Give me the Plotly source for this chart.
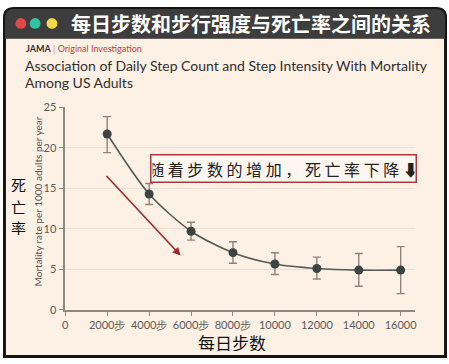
import plotly.graph_objects as go

# ---- data ----
steps = [2000, 4000, 6000, 8000, 10000, 12000, 14000, 16000]
mortality = [21.7, 14.3, 9.7, 7.05, 5.65, 5.1, 4.9, 4.9]
err_upper = [23.85, 15.6, 10.8, 8.4, 7.05, 6.5, 6.95, 7.8]
err_lower = [19.4, 13.0, 8.6, 5.75, 4.35, 3.8, 2.9, 2.0]
x_tickvals = [0, 2000, 4000, 6000, 8000, 10000, 12000, 14000, 16000]
x_ticktext = ["0", "2000步", "4000步", "6000步", "8000步", "10000", "12000", "14000", "16000"]
y_tickvals = [0, 5, 10, 15, 20, 25]

W, H = 449, 364


def px(x):
    return x / W


def py(y):
    return 1 - y / H


err_plus = [u - m for u, m in zip(err_upper, mortality)]
err_minus = [m - l for m, l in zip(mortality, err_lower)]

fig = go.Figure()
fig.add_trace(go.Scatter(
    x=steps, y=mortality, mode="lines+markers",
    line=dict(shape="spline", color="#555a58", width=1.6, smoothing=0.8),
    marker=dict(color="#3c4341", size=9),
    error_y=dict(type="data", symmetric=False, array=err_plus, arrayminus=err_minus,
                 color="#8e847b", thickness=1.4, width=4),
    showlegend=False, hoverinfo="skip",
))


def rounded_top(xa, ya, xb, yb, r):
    return (f"M {px(xa)},{py(ya + r)} Q {px(xa)},{py(ya)} {px(xa + r)},{py(ya)} "
            f"L {px(xb - r)},{py(ya)} Q {px(xb)},{py(ya)} {px(xb)},{py(ya + r)} "
            f"L {px(xb)},{py(yb)} L {px(xa)},{py(yb)} Z")


shapes = [
    dict(type="path", path=rounded_top(0, 0, 449, 364, 11), xref="paper", yref="paper",
         fillcolor="#151515", line=dict(width=0), layer="below"),
    dict(type="path", path=rounded_top(2, 2, 447, 33, 9), xref="paper", yref="paper",
         fillcolor="#3d3d3d", line=dict(width=0), layer="below"),
    dict(type="rect", xref="paper", yref="paper", x0=px(3), x1=px(446), y0=py(33), y1=py(361),
         fillcolor="#fdf0e4", line=dict(width=0), layer="below"),
]
for cx, col in [(18, "#e2474d"), (32.5, "#2ec6a2"), (49.5, "#f1d94a")]:
    shapes.append(dict(type="circle", xref="paper", yref="paper",
                       x0=px(cx - 5.5), x1=px(cx + 5.5), y0=py(17 + 5.5), y1=py(17 - 5.5),
                       fillcolor=col, line=dict(width=0)))


def note(text, x, y, xanchor="center", **kw):
    d = dict(text=text, x=px(x), y=py(y), xref="paper", yref="paper",
             xanchor=xanchor, yanchor="middle", showarrow=False)
    d.update(kw)
    return d


cjk_side = dict(family="Noto Sans CJK SC", size=15, color="#111111")

annotations = [
    note("<b>每日步数和步行强度与死亡率之间的关系</b>", 251, 17,
         font=dict(family="Noto Sans CJK SC", size=20, color="#ffffff")),
    note("<b>JAMA</b> <span style='color:#999'>|</span> <span style='color:#c8413f'>Original Investigation</span>",
         21, 43, xanchor="left", font=dict(family="Lato", size=9, color="#333333")),
    note("Association of Daily Step Count and Step Intensity With Mortality", 20, 61, xanchor="left",
         font=dict(family="Lato", size=14, color="#2f2f2f")),
    note("Among US Adults", 20, 78, xanchor="left",
         font=dict(family="Lato", size=14, color="#2f2f2f")),
    note("Mortality rate per 1000 adults per year", 35, 202, textangle=-90,
         font=dict(family="Lato", size=10, color="#555555")),
    note("死", 16, 184, height=16, borderpad=0, font=cjk_side),
    note("亡", 16, 206, height=16, borderpad=0, font=cjk_side),
    note("率", 16, 228, height=16, borderpad=0, font=cjk_side),
    note("每日步数", 232, 347, height=18, borderpad=0,
         font=dict(family="Noto Sans CJK SC", size=17, color="#111111")),
    note("随 着 步 数 的 增 加 ， 死 亡 率 下 降 ⬇", 284, 167.5,
         width=262, height=24, borderpad=1,
         bgcolor="#fff7ef", bordercolor="#a8393a", borderwidth=1.5,
         font=dict(family="Noto Sans CJK SC", size=16, color="#222222")),
    dict(x=5500, y=6.7, ax=1900, ay=16.7, xref="x", yref="y", axref="x", ayref="y",
         showarrow=True, arrowhead=2, arrowsize=1, arrowwidth=1.6, arrowcolor="#a3282a", text=""),
]

fig.update_layout(
    width=W, height=H, margin=dict(l=0, r=0, t=0, b=0),
    paper_bgcolor="#ffffff", plot_bgcolor="rgba(0,0,0,0)",
    shapes=shapes, annotations=annotations,
    xaxis=dict(domain=[px(63), px(417)], range=[0, 16700], tickvals=x_tickvals, ticktext=x_ticktext,
               showgrid=False, zeroline=False, showline=True, linecolor="#8e8983", linewidth=1.5,
               ticks="outside", ticklen=4, tickcolor="#8e8983",
               tickfont=dict(family="Lato", size=11, color="#5a5a5a")),
    yaxis=dict(domain=[py(314), py(104)], range=[0, 25], tickvals=y_tickvals,
               showgrid=True, gridcolor="#ebdfd3", gridwidth=1, zeroline=False,
               showline=True, linecolor="#8e8983", linewidth=1.5,
               ticks="outside", ticklen=5, tickcolor="#8e8983",
               tickfont=dict(family="Lato", size=11, color="#5a5a5a")),
)

fig.write_html("out.html", config={"displayModeBar": False},
               post_script="document.body.style.margin='0';document.body.style.padding='0';"
                           "document.body.style.overflow='hidden';")
